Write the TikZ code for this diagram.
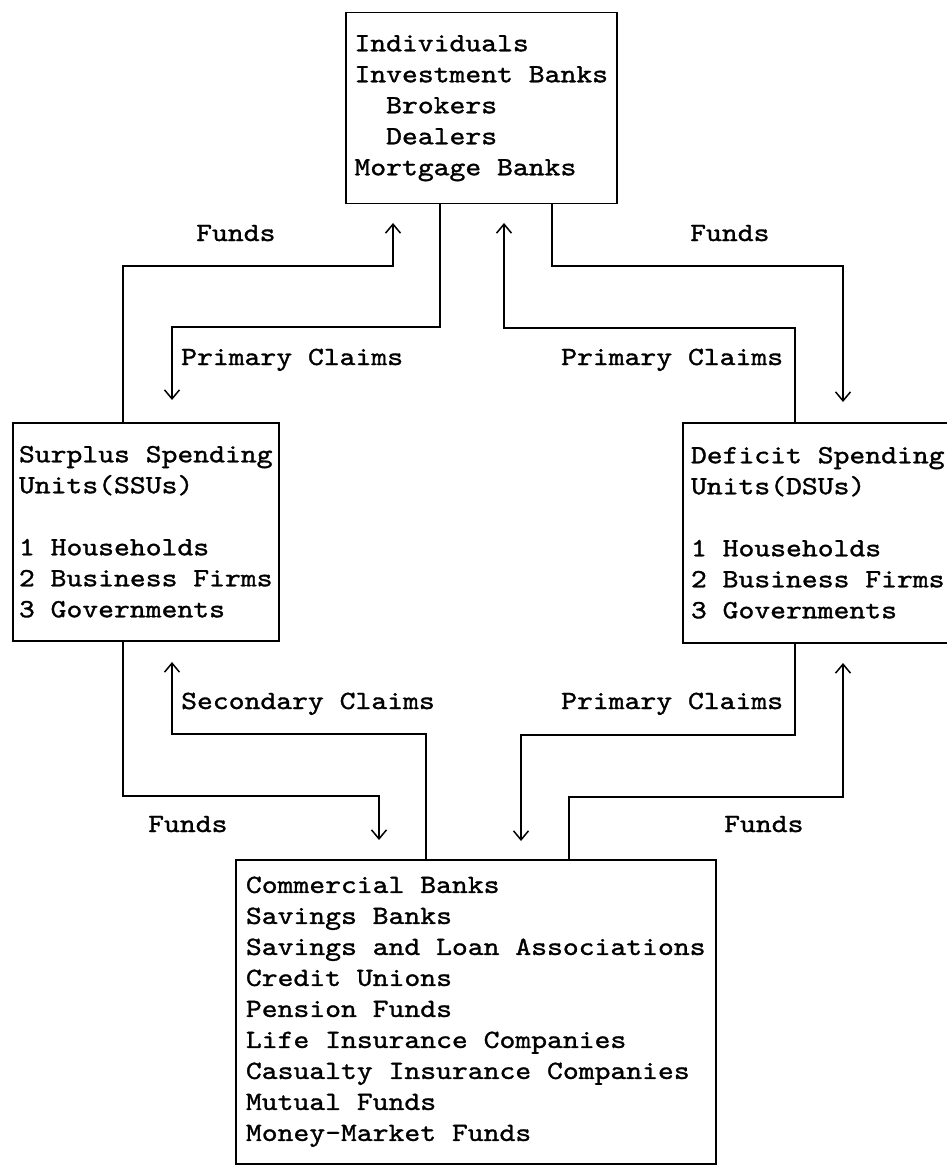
\documentclass[tikz,border=0pt]{standalone}
\usepackage{fontspec}
\setmonofont{lmmono10-regular.otf}[FakeStretch=1.15,FakeBold=1.2,WordSpace={1,0,0}]
\usetikzlibrary{arrows.meta}
\begin{document}
\begin{tikzpicture}[x=1pt,y=-1pt,
  txt/.style={font=\ttfamily\fontsize{26.25}{31}\selectfont},
  box/.style={txt, draw, line width=1.5pt, anchor=north west, align=left, inner sep=0pt},
  lbl/.style={txt, anchor=base west, inner sep=0pt},
  flow/.style={line width=1.5pt, -{Straight Barb[length=9pt,width=15pt]}}]
\useasboundingbox[fill=white] (0,0) rectangle (946,1174);

\node[box, minimum width=271pt, minimum height=191pt] (top) at (345,12)
  {Individuals\\Investment Banks\\\ \ Brokers\\\ \ Dealers\\Mortgage Banks};
\node[box, minimum width=266pt, minimum height=218pt] (ssu) at (12,422)
  {Surplus Spending\\Units(SSUs)\\[31pt]1 Households\\2 Business Firms\\3 Governments};
\node[box, minimum width=270pt, minimum height=220pt] (dsu) at (682,422)
  {Deficit Spending\\Units(DSUs)\\[31pt]1 Households\\2 Business Firms\\3 Governments};
\node[box, minimum width=480pt, minimum height=304pt] (bot) at (235,859)
  {Commercial Banks\\Savings Banks\\Savings and Loan Associations\\Credit Unions\\Pension Funds\\Life Insurance Companies\\Casualty Insurance Companies\\Mutual Funds\\Money-Market Funds};

% labels
\node[lbl] (l1) at (196,241) {Funds};
\node[lbl] (l2) at (181,365) {Primary Claims};
\node[lbl] (l3) at (690,241) {Funds};
\node[lbl] (l4) at (561,365) {Primary Claims};
\node[lbl] (l5) at (181,709) {Secondary Claims};
\node[lbl] (l6) at (561,709) {Primary Claims};
\node[lbl] (l7) at (148,832) {Funds};
\node[lbl] (l8) at (724,832) {Funds};

% arrow ends
\coordinate (e1) at (172,400);
\coordinate (e2) at (393,223);
\coordinate (e3) at (504,223);
\coordinate (e4) at (843,402);
\coordinate (e5) at (379,840);
\coordinate (e6) at (172,662);
\coordinate (e7) at (521,841);
\coordinate (e8) at (843,663);

\draw[flow] (top.south -| 440,0) -- (440,327) -| (e1);
\draw[flow] (ssu.north -| 123,0) -- (123,266) -| (e2);
\draw[flow] (dsu.north -| 795,0) -- (795,328) -| (e3);
\draw[flow] (top.south -| 552,0) -- (552,266) -| (e4);
\draw[flow] (ssu.south -| 123,0) -- (123,796) -| (e5);
\draw[flow] (bot.north -| 426,0) -- (426,734) -| (e6);
\draw[flow] (dsu.south -| 795,0) -- (795,735) -| (e7);
\draw[flow] (bot.north -| 569,0) -- (569,797) -| (e8);
\end{tikzpicture}
\end{document}
